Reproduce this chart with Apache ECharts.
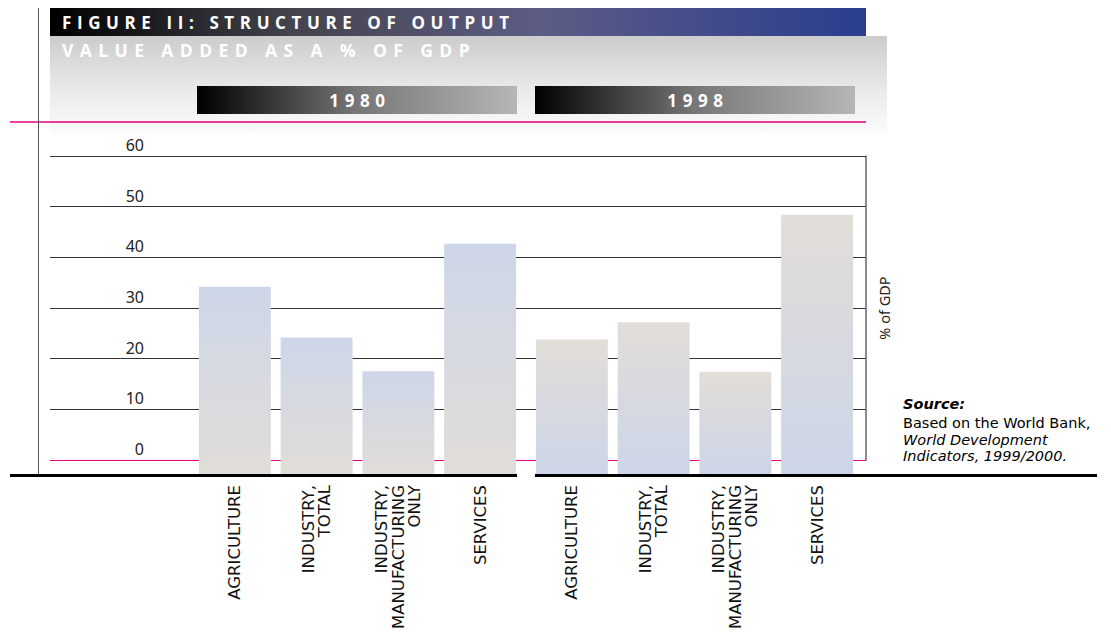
<!DOCTYPE html>
<html>
<head>
<meta charset="utf-8">
<script src="https://cdn.jsdelivr.net/npm/echarts@6/dist/echarts.min.js"></script>
<style>
  html, body { margin: 0; padding: 0; background: #fff; }
  #chart { width: 1111px; height: 642px; }
  /* header lettering is widely spaced; only the header uses Open Sans */
  #chart text[style*="Open Sans"] { letter-spacing: 5.6px; }
  #chart text[style*="Open Sans"][style*="17.5px"] { letter-spacing: 6.4px; }
</style>
</head>
<body>
<div id="chart"></div>
<script>
let categories = ['AGRICULTURE', 'INDUSTRY,\nTOTAL', 'INDUSTRY,\nMANUFACTURING\nONLY', 'SERVICES']
let values1980 = [34.2, 24.2, 17.5, 42.7]
let values1998 = [23.8, 27.2, 17.4, 48.4]
let years = ['1980', '1998']

let chart = echarts.init(document.getElementById('chart'), null, {renderer: 'svg'})

function renderBar(topColor, bottomColor) {
  return function (params, api) {
    let top = api.coord([api.value(0), api.value(1)])
    let cs = params.coordSys
    let w = api.size([1, 0])[0] * 0.88
    return {
      type: 'rect',
      shape: {x: top[0] - w / 2, y: top[1], width: w, height: cs.y + cs.height - top[1]},
      style: {
        fill: new echarts.graphic.LinearGradient(0, 0, 0, 1, [
          {offset: 0, color: topColor},
          {offset: 1, color: bottomColor}
        ])
      }
    }
  }
}

let catAxis = function (idx) {
  return {
    gridIndex: idx,
    type: 'category',
    data: categories,
    axisLine: {show: false},
    axisTick: {show: false},
    axisLabel: {
      interval: 0,
      rotate: 90,
      margin: 9,
      fontSize: 16.5,
      lineHeight: 16.5,
      color: '#111',
      fontFamily: 'DejaVu Sans'
    }
  }
}

let headerText = function (text, x, y, align, size) {
  return {
    type: 'text',
    x: x,
    y: y,
    z: 5,
    style: {
      text: text,
      fill: '#fff',
      font: 'bold ' + size + 'px "Open Sans"',
      textAlign: align,
      textVerticalAlign: 'middle'
    }
  }
}

let plainText = function (text, y, font) {
  return {
    type: 'text',
    x: 903,
    y: y,
    z: 5,
    style: {text: text, fill: '#000', font: font, textVerticalAlign: 'middle'}
  }
}

let option = {
  animation: false,
  grid: [
    {left: 50, top: 156, width: 816, height: 304},
    {left: 194, top: 156, width: 327, height: 320},
    {left: 531, top: 156, width: 327, height: 320}
  ],
  xAxis: [
    {gridIndex: 0, type: 'value', show: false},
    catAxis(1),
    catAxis(2)
  ],
  yAxis: [
    {
      gridIndex: 0,
      type: 'value',
      min: 0,
      max: 60,
      interval: 10,
      axisLine: {show: false},
      axisTick: {show: false},
      axisLabel: {
        inside: true,
        align: 'right',
        verticalAlign: 'bottom',
        margin: 94,
        padding: [0, 0, 3, 0],
        fontSize: 16,
        color: '#222',
        fontFamily: 'Noto Sans'
      },
      splitLine: {
        lineStyle: {
          color: ['#e6007e', '#333', '#333', '#333', '#333', '#333', '#333'],
          width: 1
        }
      }
    },
    {
      gridIndex: 0,
      type: 'value',
      position: 'right',
      min: 0,
      max: 60,
      interval: 10,
      axisLine: {show: true, lineStyle: {color: '#666', width: 1.5}},
      axisTick: {show: false},
      axisLabel: {show: false},
      splitLine: {show: false},
      name: '% of GDP',
      nameLocation: 'middle',
      nameRotate: 90,
      nameGap: 10,
      nameTextStyle: {fontSize: 14.5, color: '#222', fontFamily: 'Noto Sans'}
    },
    {gridIndex: 1, type: 'value', min: -3.16, max: 60, show: false},
    {gridIndex: 2, type: 'value', min: -3.16, max: 60, show: false}
  ],
  graphic: [
    {
      type: 'rect',
      shape: {x: 50, y: 36, width: 837, height: 97},
      z: 1,
      style: {
        fill: new echarts.graphic.LinearGradient(0, 0, 0, 1, [
          {offset: 0, color: '#cccccc'},
          {offset: 0.6, color: '#ececec'},
          {offset: 1, color: '#fbfbfb'}
        ])
      }
    },
    {
      type: 'rect',
      shape: {x: 50, y: 8, width: 816, height: 28},
      z: 2,
      style: {
        fill: new echarts.graphic.LinearGradient(0, 0, 1, 0, [
          {offset: 0, color: '#000000'},
          {offset: 0.3, color: '#44444e'},
          {offset: 0.6, color: '#5c5c84'},
          {offset: 1, color: '#2a3d8f'}
        ])
      }
    },
    headerText('FIGURE II: STRUCTURE OF OUTPUT', 62, 22, 'left', 17),
    headerText('VALUE ADDED AS A % OF GDP', 62, 50, 'left', 17.5),
    {
      type: 'rect',
      shape: {x: 197, y: 86, width: 320, height: 28},
      z: 2,
      style: {
        fill: new echarts.graphic.LinearGradient(0, 0, 1, 0, [
          {offset: 0, color: '#000000'},
          {offset: 0.5, color: '#777777'},
          {offset: 1, color: '#b6b6b6'}
        ])
      }
    },
    {
      type: 'rect',
      shape: {x: 535, y: 86, width: 320, height: 28},
      z: 2,
      style: {
        fill: new echarts.graphic.LinearGradient(0, 0, 1, 0, [
          {offset: 0, color: '#000000'},
          {offset: 0.5, color: '#777777'},
          {offset: 1, color: '#b6b6b6'}
        ])
      }
    },
    headerText(years[0], 360, 100, 'center', 17),
    headerText(years[1], 698, 100, 'center', 17),
    {
      type: 'line',
      shape: {x1: 10, y1: 122, x2: 866, y2: 122},
      z: 3,
      style: {stroke: '#e6007e', lineWidth: 1.5}
    },
    {
      type: 'line',
      shape: {x1: 38.5, y1: 8, x2: 38.5, y2: 476},
      z: 3,
      style: {stroke: '#555', lineWidth: 1}
    },
    {
      type: 'line',
      shape: {x1: 10, y1: 475.5, x2: 517, y2: 475.5},
      z: 10,
      style: {stroke: '#000', lineWidth: 3}
    },
    {
      type: 'line',
      shape: {x1: 535, y1: 475.5, x2: 1097, y2: 475.5},
      z: 10,
      style: {stroke: '#000', lineWidth: 3}
    },
    plainText('Source:', 404, 'italic bold 14.5px "DejaVu Sans"'),
    plainText('Based on the World Bank,', 423, '14.5px "DejaVu Sans"'),
    plainText('World Development', 439.5, 'italic 14.5px "DejaVu Sans"'),
    plainText('Indicators, 1999/2000.', 456, 'italic 14.5px "DejaVu Sans"')
  ],
  series: [
    {
      type: 'custom',
      xAxisIndex: 1,
      yAxisIndex: 2,
      renderItem: renderBar('#cdd6e8', '#e1ddd8'),
      encode: {x: 0, y: 1},
      data: values1980.map(function (v, i) { return [i, v] })
    },
    {
      type: 'custom',
      xAxisIndex: 2,
      yAxisIndex: 3,
      renderItem: renderBar('#e2ddd8', '#ccd5e8'),
      encode: {x: 0, y: 1},
      data: values1998.map(function (v, i) { return [i, v] })
    }
  ]
}
chart.setOption(option)
</script>
</body>
</html>
